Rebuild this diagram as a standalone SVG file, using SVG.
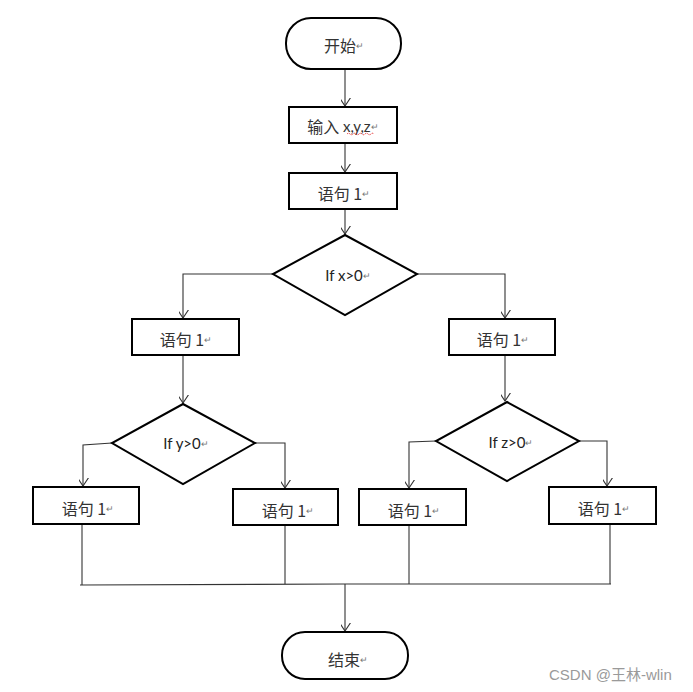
<svg xmlns="http://www.w3.org/2000/svg" width="693" height="692" viewBox="0 0 693 692">
<style>
.box{fill:#fff;stroke:#000;stroke-width:2}
.ln{fill:none;stroke:#333;stroke-width:1.1}
.t{font-family:"Noto Sans CJK SC","Lato",sans-serif;font-size:16px;fill:#333;text-anchor:middle;dominant-baseline:central}
.tl{font-family:"Lato","Noto Sans CJK SC",sans-serif;font-size:15px;fill:#222;text-anchor:middle;dominant-baseline:central}
.pm{font-size:9px;fill:#777}
.wm{font-family:"Liberation Sans","Noto Sans CJK SC",sans-serif;font-size:15px;fill:#9a9a9a}
</style>
<defs>
<marker id="ah" markerUnits="userSpaceOnUse" markerWidth="16" markerHeight="14" refX="7" refY="11" orient="auto-start-reverse" viewBox="0 0 14 12">
</marker>
<marker id="v" markerUnits="userSpaceOnUse" markerWidth="16" markerHeight="16" viewBox="-8 -12 16 16" refX="0" refY="0" orient="auto">
<path d="M-9,-6 L0,0 L-9,6" fill="none" stroke="#333" stroke-width="1.1"/>
</marker>
</defs>
<g id="connectors">
<path class="ln" d="M345,69 V106" marker-end="url(#v)"/>
<path class="ln" d="M345,143 V172" marker-end="url(#v)"/>
<path class="ln" d="M345,209 V234" marker-end="url(#v)"/>
<path class="ln" d="M273,274 H183 V318" marker-end="url(#v)"/>
<path class="ln" d="M417,274 H505 V318" marker-end="url(#v)"/>
<path class="ln" d="M183,355 V403" marker-end="url(#v)"/>
<path class="ln" d="M505,355 V401" marker-end="url(#v)"/>
<path class="ln" d="M112,443 L83,445 V486" marker-end="url(#v)"/>
<path class="ln" d="M255,443 H285 V488" marker-end="url(#v)"/>
<path class="ln" d="M436,441 L409,442 V488" marker-end="url(#v)"/>
<path class="ln" d="M578,441 H607 V486" marker-end="url(#v)"/>
<path class="ln" d="M82,524 V585"/>
<path class="ln" d="M285,525 V584"/>
<path class="ln" d="M409,525 V584"/>
<path class="ln" d="M610,524 V584"/>
<path class="ln" d="M80,585 L345,584 L611,584"/>
<path class="ln" d="M345,584 V631" marker-end="url(#v)"/>
</g>
<g id="start">
<rect class="box" x="286" y="18" width="115" height="51" rx="25"/>
<text class="t" x="344" y="45">开始<tspan class="pm">↵</tspan></text>
</g>
<g id="input">
<rect class="box" x="289" y="107" width="108" height="36"/>
<text class="t" x="343" y="126">输入 <tspan font-family="Lato,sans-serif" font-size="15">x,y,z</tspan><tspan class="pm">↵</tspan></text>
<path d="M347,134 q1.5,-1.5 3,0 t3,0 t3,0 t3,0 t3,0 t3,0 t3,0 t3,0 t3,0" fill="none" stroke="#e02020" stroke-width="0.9" stroke-dasharray="1.2,0.8"/>
</g>
<g id="s1">
<rect class="box" x="289" y="173" width="108" height="36"/>
<text class="t" x="344" y="193">语句 1<tspan class="pm">↵</tspan></text>
</g>
<g id="d1">
<polygon class="box" points="345,235 417,274 345,315 273,274"/>
<text class="tl" x="348" y="275">If x&gt;0<tspan class="pm">↵</tspan></text>
</g>
<g id="s2L">
<rect class="box" x="132" y="319" width="107" height="36"/>
<text class="t" x="186" y="339">语句 1<tspan class="pm">↵</tspan></text>
</g>
<g id="s2R">
<rect class="box" x="449" y="319" width="106" height="36"/>
<text class="t" x="503" y="339">语句 1<tspan class="pm">↵</tspan></text>
</g>
<g id="d2">
<polygon class="box" points="183,404 255,443 183,484 112,443"/>
<text class="tl" x="186" y="443">If y&gt;0<tspan class="pm">↵</tspan></text>
</g>
<g id="d3">
<polygon class="box" points="507,402 579,441 507,481 436,441"/>
<text class="tl" x="511" y="442">If z&gt;0<tspan class="pm">↵</tspan></text>
</g>
<g id="s3a">
<rect class="box" x="33" y="487" width="106" height="37"/>
<text class="t" x="88" y="508">语句 1<tspan class="pm">↵</tspan></text>
</g>
<g id="s3b">
<rect class="box" x="233" y="489" width="105" height="36"/>
<text class="t" x="288" y="510">语句 1<tspan class="pm">↵</tspan></text>
</g>
<g id="s3c">
<rect class="box" x="359" y="489" width="107" height="36"/>
<text class="t" x="414" y="510">语句 1<tspan class="pm">↵</tspan></text>
</g>
<g id="s3d">
<rect class="box" x="549" y="487" width="107" height="37"/>
<text class="t" x="604" y="508">语句 1<tspan class="pm">↵</tspan></text>
</g>
<g id="end">
<rect class="box" x="282" y="632" width="126" height="47" rx="23"/>
<text class="t" x="348" y="659">结束<tspan class="pm">↵</tspan></text>
</g>
<text class="wm" x="549" y="680">CSDN @王林-wlin</text>
</svg>
